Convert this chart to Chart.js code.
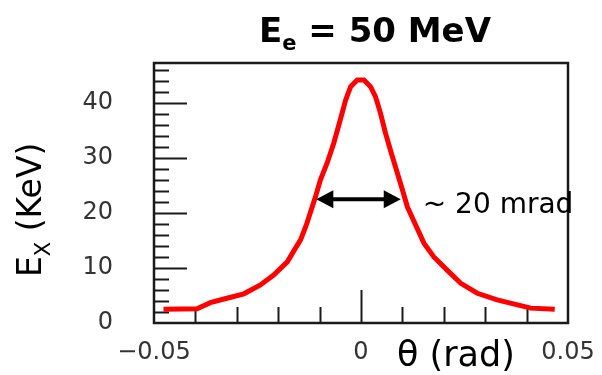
<!DOCTYPE html>
<html><head><meta charset="utf-8">
<script src="https://cdn.jsdelivr.net/npm/chart.js@4/dist/chart.umd.min.js"></script>
<style>html,body{margin:0;padding:0;background:#fff;overflow:hidden;}#wrap{width:602px;height:375px;position:relative;}</style>
</head><body><div id="wrap"><canvas id="c" width="602" height="375"></canvas></div>
<script>
// ---- data ----
const thetaValues = [-0.0477, -0.0396, -0.0364, -0.0324, -0.0283, -0.0243, -0.0211, -0.0178, -0.0163, -0.0146,
  -0.0132, -0.0110, -0.0098, -0.0082, -0.0066, -0.0050, -0.0037, -0.0025, -0.0009,
  0.0007, 0.0023, 0.0035, 0.0047, 0.0059, 0.0071, 0.0083, 0.0100, 0.0112, 0.0130,
  0.0152, 0.0176, 0.0208, 0.0241, 0.0281, 0.0329, 0.0378, 0.0410, 0.0468];
const energyValues = [2.5, 2.6, 3.7, 4.5, 5.3, 6.9, 8.7, 11.1, 13.0, 15.1,
  17.8, 22.9, 26.0, 29.0, 32.6, 36.9, 40.5, 42.9, 44.1,
  44.1, 42.9, 41.1, 38.1, 34.5, 31.4, 28.4, 24.2, 21.1, 18.1,
  14.5, 12.0, 9.6, 7.2, 5.4, 4.2, 3.3, 2.7, 2.5];
const xLabelValues = [-0.05, 0, 0.05];
const xTickLabels = ['\u22120.05', '0', '0.05'];
const yLabelValues = [0, 10, 20, 30, 40];
const yTickLabels = ['0', '10', '20', '30', '40'];
const xMinorTicks = [-0.04, -0.03, -0.02, -0.01, 0.01, 0.02, 0.03, 0.04];
const xMajorTicks = [0];
const yMinorTicks = [2, 4, 6, 8, 12, 14, 16, 18, 22, 24, 26, 28, 32, 34, 36, 38, 42, 44, 46];
const yMajorTicks = [10, 20, 30, 40];
const arrowTheta = [-0.0108, 0.0096];
const arrowEnergy = 22.45;
const annotationText = '~ 20 mrad';
const titleMain = 'E', titleSub = 'e', titleRest = ' = 50 MeV';
const yTitleMain = 'E', yTitleSub = 'X', yTitleRest = ' (KeV)';
const xTitle = '\u03B8 (rad)';

const INK = '#1a1a1a';

const decor = {
  id: 'decor',
  beforeDatasetsDraw(chart) {
    const ctx = chart.ctx, a = chart.chartArea, xs = chart.scales.x, ys = chart.scales.y;
    ctx.save();
    ctx.strokeStyle = INK;
    ctx.lineWidth = 2;
    const vt = (v, len) => { const p = Math.round(xs.getPixelForValue(v)) + 0.5; ctx.beginPath(); ctx.moveTo(p, a.bottom); ctx.lineTo(p, a.bottom - len); ctx.stroke(); };
    const ht = (v, len) => { const p = Math.round(ys.getPixelForValue(v)) + 0.5; ctx.beginPath(); ctx.moveTo(a.left, p); ctx.lineTo(a.left + len, p); ctx.stroke(); };
    xMinorTicks.forEach(v => vt(v, 16));
    xMajorTicks.forEach(v => vt(v, 33));
    yMinorTicks.forEach(v => ht(v, 15));
    yMajorTicks.forEach(v => ht(v, 33));
    ctx.lineWidth = 2.5;
    ctx.strokeRect(a.left, a.top, a.right - a.left, a.bottom - a.top);
    ctx.restore();
  },
  afterDatasetsDraw(chart) {
    const ctx = chart.ctx, xs = chart.scales.x, ys = chart.scales.y;
    ctx.save();
    const x1 = xs.getPixelForValue(arrowTheta[0]), x2 = xs.getPixelForValue(arrowTheta[1]);
    const y = ys.getPixelForValue(arrowEnergy);
    const hl = 17, hw = 9;
    ctx.strokeStyle = '#000'; ctx.fillStyle = '#000'; ctx.lineWidth = 4;
    ctx.beginPath(); ctx.moveTo(x1 + hl - 2, y); ctx.lineTo(x2 - hl + 2, y); ctx.stroke();
    ctx.beginPath(); ctx.moveTo(x1, y); ctx.lineTo(x1 + hl, y - hw); ctx.lineTo(x1 + hl, y + hw); ctx.closePath(); ctx.fill();
    ctx.beginPath(); ctx.moveTo(x2, y); ctx.lineTo(x2 - hl, y - hw); ctx.lineTo(x2 - hl, y + hw); ctx.closePath(); ctx.fill();
    ctx.font = '28px "DejaVu Sans"';
    ctx.textBaseline = 'alphabetic'; ctx.textAlign = 'left';
    ctx.fillText(annotationText, x2 + 22, y + 14);
    ctx.restore();
  },
  afterDraw(chart) {
    const ctx = chart.ctx;
    ctx.save();
    ctx.fillStyle = '#000';
    ctx.textBaseline = 'alphabetic'; ctx.textAlign = 'left';
    const fMain = 'bold 34px "DejaVu Sans"', fSub = 'bold 21px "DejaVu Sans"';
    ctx.font = fMain; const w1 = ctx.measureText(titleMain).width, w3 = ctx.measureText(titleRest).width;
    ctx.font = fSub; const w2 = ctx.measureText(titleSub).width;
    let tx = 375 - (w1 + w2 + w3) / 2; const ty = 42;
    ctx.font = fMain; ctx.fillText(titleMain, tx, ty); tx += w1;
    ctx.font = fSub; ctx.fillText(titleSub, tx, ty + 8); tx += w2;
    ctx.font = fMain; ctx.fillText(titleRest, tx, ty);
    ctx.save();
    ctx.translate(41, 277); ctx.rotate(-Math.PI / 2);
    const gMain = '33px "DejaVu Sans"', gSub = '21px "DejaVu Sans"';
    ctx.font = gMain; ctx.fillText(yTitleMain, 0, 0); let ox = ctx.measureText(yTitleMain).width;
    ctx.font = gSub; ctx.fillText(yTitleSub, ox, 9); ox += ctx.measureText(yTitleSub).width;
    ctx.font = gMain; ctx.fillText(yTitleRest, ox, 0);
    ctx.restore();
    ctx.font = '35px "DejaVu Sans"';
    ctx.fillText(xTitle, 397, 366);
    ctx.restore();
  }
};

new Chart(document.getElementById('c'), {
  type: 'line',
  data: {
    datasets: [{
      data: thetaValues.map((t, i) => ({ x: t, y: energyValues[i] })),
      borderColor: '#ff0000',
      borderWidth: 5,
      pointRadius: 0,
      tension: 0,
      fill: false
    }]
  },
  options: {
    responsive: false,
    animation: false,
    devicePixelRatio: 1,
    layout: { padding: { left: 0, right: 34, top: 63, bottom: 0 } },
    plugins: { legend: { display: false }, tooltip: { enabled: false }, title: { display: false } },
    scales: {
      x: {
        type: 'linear', min: -0.05, max: 0.05,
        grid: { display: false, drawTicks: false },
        border: { display: false },
        afterBuildTicks: s => { s.ticks = xLabelValues.map(v => ({ value: v })); },
        afterFit: s => { s.height = 52; s.paddingLeft = 0; s.paddingRight = 0; },
        ticks: {
          autoSkip: false, maxRotation: 0, padding: 15, color: '#333',
          font: { family: 'DejaVu Sans', size: 24 },
          callback: (v, i) => xTickLabels[i]
        }
      },
      y: {
        type: 'linear', min: 0, max: 47.2,
        grid: { display: false, drawTicks: false },
        border: { display: false },
        afterBuildTicks: s => { s.ticks = yLabelValues.map(v => ({ value: v })); },
        afterFit: s => { s.width = 154; s.paddingTop = 0; s.paddingBottom = 0; },
        ticks: {
          autoSkip: false, padding: 41, color: '#333',
          font: { family: 'DejaVu Sans', size: 24 },
          callback: (v, i) => yTickLabels[i]
        }
      }
    }
  },
  plugins: [decor]
});
</script>
</body></html>
